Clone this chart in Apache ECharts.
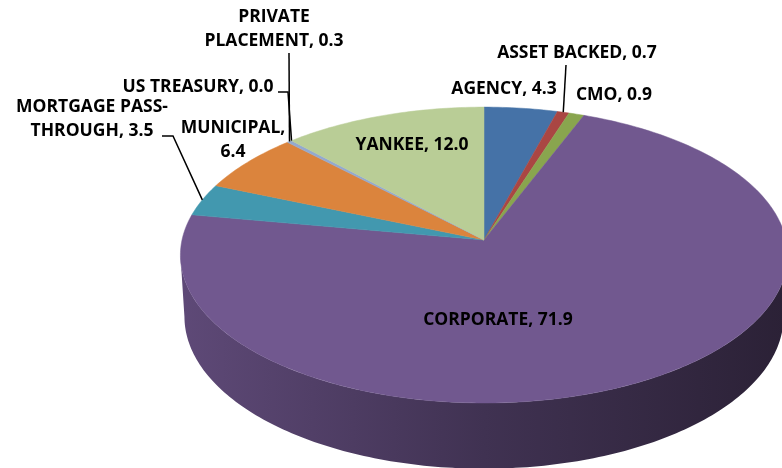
<!DOCTYPE html>
<html>
<head>
<meta charset="utf-8">
<script src="https://cdn.jsdelivr.net/npm/echarts@6/dist/echarts.min.js"></script>
<style>
  html, body { margin: 0; padding: 0; background: #fff; }
  #chart { width: 782px; height: 468px; }
</style>
</head>
<body>
<div id="chart"></div>
<script>
// portfolio by sector (%)
var categories = ['AGENCY', 'ASSET BACKED', 'CMO', 'CORPORATE', 'MORTGAGE PASS-THROUGH',
  'MUNICIPAL', 'PRIVATE PLACEMENT', 'US TREASURY', 'YANKEE'];
var values = [4.3, 0.7, 0.9, 71.9, 3.5, 6.4, 0.3, 0.0, 12.0];
var colors = ['#4572A7', '#AA4643', '#89A54E', '#71588F', '#4298AF',
  '#DB843D', '#93A9CF', '#A47D7C', '#B9CD96'];

// where the labels sit (px), brk = chars on first line, lead = leader start points
var labelLayout = [
  { x: 504, y: 89 },
  { x: 577, y: 53, lead: [[566, 65]] },
  { x: 614, y: 95 },
  { x: 498, y: 320 },
  { x: 92, y: 119, brk: 14, lead: [[162, 136], [173, 136]] },
  { x: 233, y: 140, brk: 10 },
  { x: 274, y: 29, brk: 7, lead: [[289, 53]] },
  { x: 198, y: 87, lead: [[278, 92], [288, 92]] },
  { x: 412, y: 145 }
];

// fake 3d view
var view = { cx: 484, cy: 240, rx: 302, tilt: 29 * Math.PI / 180, dist: 8.6, depth: 0.235 };

var total = values.reduce(function (a, b) { return a + b; }, 0);
var starts = [];
var acc = 0;
values.forEach(function (v) { starts.push(acc); acc += v; });

// phi clockwise from 12 o'clock (far side), h = drop below the top face
function project(phi, r, h) {
  var X = r * Math.sin(phi), Z = r * Math.cos(phi);
  var sa = Math.sin(view.tilt), ca = Math.cos(view.tilt);
  var yv = Z * sa - h * ca;
  var dep = view.dist + Z * ca + h * sa;
  var s = view.rx * view.dist / dep;
  return [view.cx + X * s, view.cy - yv * s];
}

function arc(a, b, h) {
  var pts = [];
  var n = Math.max(2, Math.ceil((b - a) / (Math.PI / 180)));
  for (var k = 0; k <= n; k++) pts.push(project(a + (b - a) * k / n, 1, h));
  return pts;
}

// right silhouette of the rim, the visible side runs from there round the front
var rimR = 0, best = -1;
for (var t = 0; t <= Math.PI; t += 0.002) {
  var px = project(t, 1, 0)[0];
  if (px > best) { best = px; rimR = t; }
}
var rimL = 2 * Math.PI - rimR;

function shade(hex, f) {
  var n = parseInt(hex.slice(1), 16);
  var r = Math.round(((n >> 16) & 255) * f), g = Math.round(((n >> 8) & 255) * f), b = Math.round((n & 255) * f);
  return 'rgb(' + r + ',' + g + ',' + b + ')';
}

function labelText(i) {
  var s = categories[i] + ', ' + values[i].toFixed(1);
  var brk = labelLayout[i].brk;
  if (brk) s = s.slice(0, brk).trim() + '\n' + s.slice(brk).trim();
  return s;
}

function renderSlice(params, api) {
  var i = params.dataIndex;
  var a = starts[i] / total * 2 * Math.PI;
  var b = (starts[i] + values[i]) / total * 2 * Math.PI;
  var mid = (a + b) / 2;
  var children = [];

  if (b > a) {
    var s0 = Math.max(a, rimR), s1 = Math.min(b, rimL);
    if (s1 > s0) {
      var side = arc(s0, s1, 0).concat(arc(s0, s1, view.depth).reverse());
      children.push({
        type: 'polygon',
        shape: { points: side },
        style: {
          fill: new echarts.graphic.LinearGradient(view.cx - view.rx, 0, view.cx + view.rx, 0, [
            { offset: 0, color: shade(colors[i], 0.83) },
            { offset: 0.5, color: shade(colors[i], 0.57) },
            { offset: 1, color: shade(colors[i], 0.38) }
          ], true)
        }
      });
    }
    children.push({
      type: 'polygon',
      shape: { points: [project(0, 0, 0)].concat(arc(a, b, 0)) },
      style: { fill: colors[i], stroke: colors[i], lineWidth: 0.5 }
    });
  }

  var lay = labelLayout[i];
  if (lay.lead) {
    children.push({
      type: 'polyline',
      z2: 10,
      shape: { points: lay.lead.concat([project(mid, 1, 0)]) },
      style: { stroke: '#000', lineWidth: 1.5, fill: null }
    });
  }
  children.push({
    type: 'text',
    z2: 20,
    style: {
      text: labelText(i),
      x: lay.x,
      y: lay.y,
      align: 'center',
      verticalAlign: 'middle',
      fontFamily: '"Open Sans", sans-serif',
      fontWeight: 'bold',
      fontSize: 17.5,
      lineHeight: 24,
      fill: '#000'
    }
  });
  return { type: 'group', children: children };
}

var chart = echarts.init(document.getElementById('chart'), null, { renderer: 'canvas' });
chart.setOption({
  animation: false,
  backgroundColor: '#fff',
  series: [{
    type: 'custom',
    coordinateSystem: 'none',
    data: values.map(function (v, i) { return [v, i]; }),
    renderItem: renderSlice
  }]
});
</script>
</body>
</html>
